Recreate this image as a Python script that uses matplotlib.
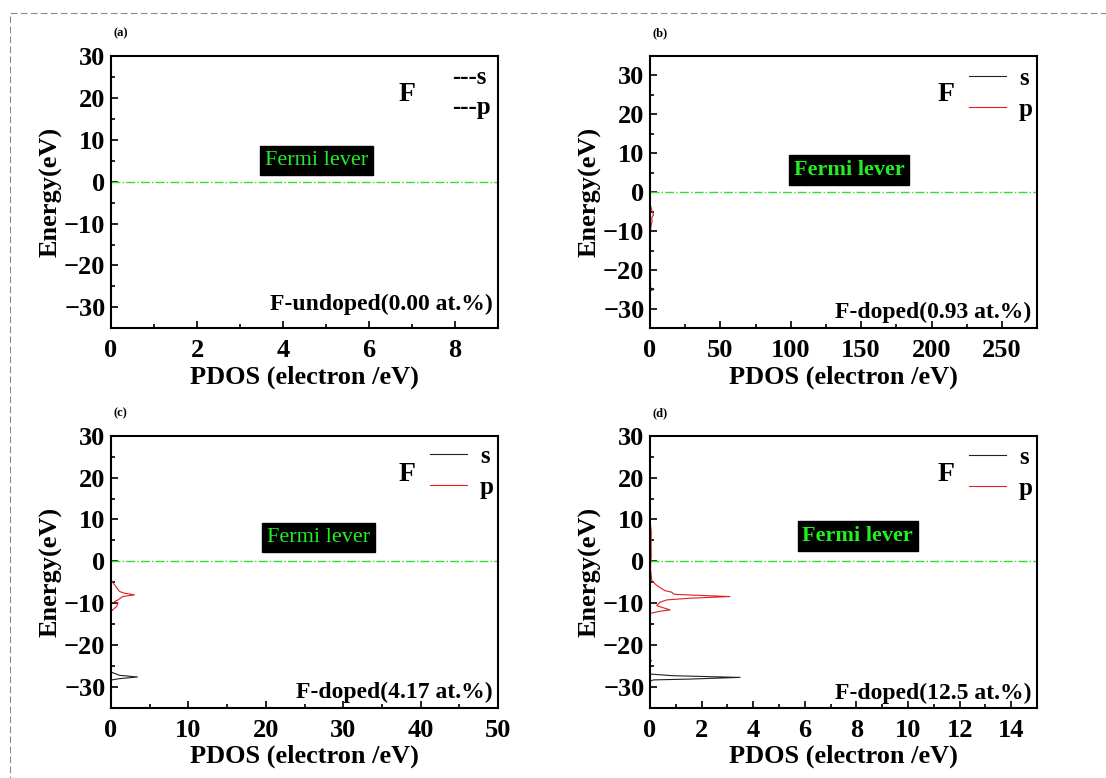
import matplotlib
matplotlib.use("Agg")
import matplotlib.pyplot as plt
from matplotlib.patches import Rectangle
from matplotlib.ticker import MultipleLocator

plt.rcParams['font.family'] = ['Liberation Serif', 'DejaVu Serif']
plt.rcParams['font.weight'] = 'bold'

# (b) F-doped 0.93 at.%
e_s_b = [-24.5, -25.0, -25.3, -25.6]
d_s_b = [0.0, 2.8, 0.5, 0.0]
e_p_b = [-3.0, -4.0, -5.0, -5.8, -6.5, -7.5, -8.5, -9.5, -10.0]
d_p_b = [0.0, 0.8, 1.5, 2.5, 1.2, 1.5, 0.8, 0.5, 0.0]

# (c) F-doped 4.17 at.%
e_s_c = [-26.2, -26.5, -27.2, -27.6, -28.0, -28.3, -28.6]
d_s_c = [0.0, 0.1, 1.1, 3.4, 1.1, 0.1, 0.0]
e_p_c = [-4.5, -4.8, -5.6, -7.2, -7.6, -8.0, -8.4, -9.2, -9.6, -10.0, -10.8, -11.6, -12.0]
d_p_c = [0.0, 0.15, 0.45, 1.1, 1.75, 3.03, 1.5, 0.9, 0.45, 0.9, 0.7, 0.2, 0.0]

# (d) F-doped 12.5 at.%
e_s_d = [-23.3, -23.7, -24.1, -26.9, -27.3, -27.7, -28.1, -28.3, -28.6]
d_s_d = [0.0, 0.05, 0.0, 0.0, 0.9, 3.49, 1.55, 0.13, 0.0]
e_p_d = [9.8, 7.0, 4.0, 1.0, 0.2, -2.0, -4.6, -5.75, -7.0, -7.35, -7.75, -7.9, -8.4,
         -8.8, -9.2, -9.75, -10.55, -10.95, -11.6, -11.9, -12.4, -12.8]
d_p_d = [0.0, 0.05, 0.04, 0.05, 0.03, 0.02, 0.07, 0.26, 0.58, 0.84, 0.9, 1.03, 3.1,
         1.55, 0.65, 0.39, 0.26, 0.45, 0.78, 0.39, 0.03, 0.0]

panels = ['(a)', '(b)', '(c)', '(d)']
notes = ['F-undoped(0.00 at.%)', 'F-doped(0.93 at.%)', 'F-doped(4.17 at.%)', 'F-doped(12.5 at.%)']
xmax = [9, 275, 50, 15]
xmajor = [2, 50, 10, 2]
ylims = [(-35, 30), (-35, 35), (-35, 30), (-35, 30)]
series = [None, (e_s_b, d_s_b, e_p_b, d_p_b), (e_s_c, d_s_c, e_p_c, d_p_c),
          (e_s_d, d_s_d, e_p_d, d_p_d)]

fig = plt.figure(figsize=(11.06, 7.78), dpi=100)

# dashed frame round the figure
fig.patches.append(Rectangle((0.009, -0.02), 1.2, 1.003, transform=fig.transFigure,
                             fill=False, ls=(0, (6, 3)), lw=0.8, ec='#888888'))

rects = [(0.1004, 0.578), (0.5877, 0.578), (0.1004, 0.090), (0.5877, 0.090)]
fermi_pos = [(0.53, 0.616), (0.514, 0.58), (0.537, 0.625), (0.537, 0.632)]
note_y = [0.088, 0.06, 0.059, 0.055]
leg_y = [1.016, 1.016, 1.022, 1.018]

for i in range(4):
    ax = fig.add_axes([rects[i][0], rects[i][1], 0.350, 0.350])
    ax.set_xlim(0, xmax[i])
    ax.set_ylim(*ylims[i])
    ax.xaxis.set_major_locator(MultipleLocator(xmajor[i]))
    ax.xaxis.set_minor_locator(MultipleLocator(xmajor[i] / 2))
    ax.yaxis.set_major_locator(MultipleLocator(10))
    ax.yaxis.set_minor_locator(MultipleLocator(5))
    ax.tick_params(which='both', direction='in', labelsize=19, width=1.2)
    ax.tick_params(axis='x', pad=8)
    ax.tick_params(axis='y', pad=4)
    ax.tick_params(which='major', length=5)
    ax.tick_params(which='minor', length=3)
    for sp in ax.spines.values():
        sp.set_linewidth(1.5)
    ax.set_xlabel('PDOS (electron /eV)', fontsize=19, fontweight='bold', labelpad=2)
    ax.set_ylabel('Energy(eV)', fontsize=19, fontweight='bold', labelpad=1)

    ax.axhline(0, color='#33dd33', lw=1.0, ls='-.')

    bold = 'bold' if i in (1, 3) else 'normal'
    ax.text(fermi_pos[i][0], fermi_pos[i][1], 'Fermi lever', transform=ax.transAxes,
            ha='center', va='center', fontsize=16, fontweight=bold, color='#22ee22',
            bbox=dict(boxstyle='square,pad=0.22', fc='black', ec='black'))

    ax.text(0.765, 0.858, 'F', transform=ax.transAxes, ha='center', va='center',
            fontsize=20, fontweight='bold')
    ax.text(0.985, note_y[i], notes[i], transform=ax.transAxes, ha='right',
            va='center', fontsize=17, fontweight='bold')

    if series[i] is None:
        ax.text(0.97, 0.92, '---s', transform=ax.transAxes, ha='right', va='center',
                fontsize=18, fontweight='bold')
        ax.text(0.98, 0.81, '---p', transform=ax.transAxes, ha='right', va='center',
                fontsize=18, fontweight='bold')
    else:
        es, ds, ep, dp = series[i]
        ax.plot(ds, es, color='#222222', lw=0.8, label='s')
        ax.plot(dp, ep, color='#e02020', lw=0.8, label='p')
        ax.legend(loc='upper right', bbox_to_anchor=(1.028, leg_y[i]), frameon=False,
                  fontsize=18, handlelength=1.5, handletextpad=0.5, labelspacing=0.33,
                  borderaxespad=0.2)

    fig.text(rects[i][0] + 0.002, rects[i][1] + 0.379, panels[i], fontsize=9,
             fontweight='bold', ha='left', va='center')

fig.savefig('out.png', dpi=100)
